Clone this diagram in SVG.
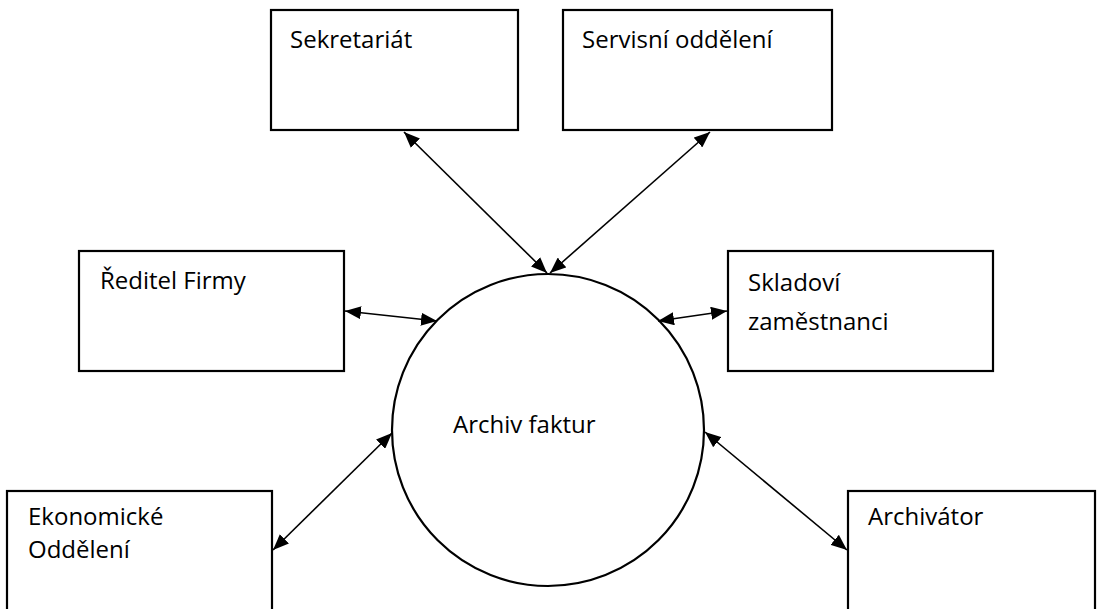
<svg xmlns="http://www.w3.org/2000/svg" width="1106" height="609" viewBox="0 0 1106 609">
<style>
.box{fill:#fff;stroke:#000;stroke-width:2.2}
.t{font-family:"Open Sans","Liberation Sans",sans-serif;font-size:24px;fill:#000}
.c{stroke:#000;stroke-width:1.6;fill:none;marker-start:url(#ah);marker-end:url(#ah)}
</style>
<defs>
<marker id="ah" viewBox="0 0 16 13" refX="16" refY="6.5" markerWidth="16" markerHeight="13" markerUnits="userSpaceOnUse" orient="auto-start-reverse">
<path d="M0,0 L16,6.5 L0,13 z" fill="#000"/>
</marker>
</defs>
<rect width="1106" height="609" fill="#fff"/>
<g id="sekretariat"><rect class="box" x="271" y="10" width="247" height="120"/><text class="t" x="290" y="48">Sekretariát</text></g>
<g id="servisni"><rect class="box" x="563" y="10" width="269" height="120"/><text class="t" x="582" y="48">Servisní oddělení</text></g>
<g id="reditel"><rect class="box" x="79" y="251" width="265" height="120"/><text class="t" x="100" y="289">Ředitel Firmy</text></g>
<g id="skladovi"><rect class="box" x="728" y="251" width="265" height="120"/><text class="t" x="748" y="291">Skladoví</text><text class="t" x="748" y="330">zaměstnanci</text></g>
<g id="archiv"><circle class="box" cx="548" cy="430" r="156"/><text class="t" x="453" y="433">Archiv faktur</text></g>
<g id="ekonomicke"><rect class="box" x="7" y="491" width="265" height="130"/><text class="t" x="28" y="525">Ekonomické</text><text class="t" x="28" y="558">Oddělení</text></g>
<g id="archivator"><rect class="box" x="848" y="491" width="247" height="130"/><text class="t" x="868" y="525">Archivátor</text></g>
<g id="connectors">
<line class="c" x1="404" y1="132" x2="547" y2="273"/>
<line class="c" x1="710" y1="132" x2="550" y2="273"/>
<line class="c" x1="345" y1="311" x2="437" y2="321"/>
<line class="c" x1="727" y1="311" x2="658" y2="321"/>
<line class="c" x1="273" y1="550" x2="392" y2="433"/>
<line class="c" x1="847" y1="550" x2="705" y2="432"/>
</g>
</svg>
